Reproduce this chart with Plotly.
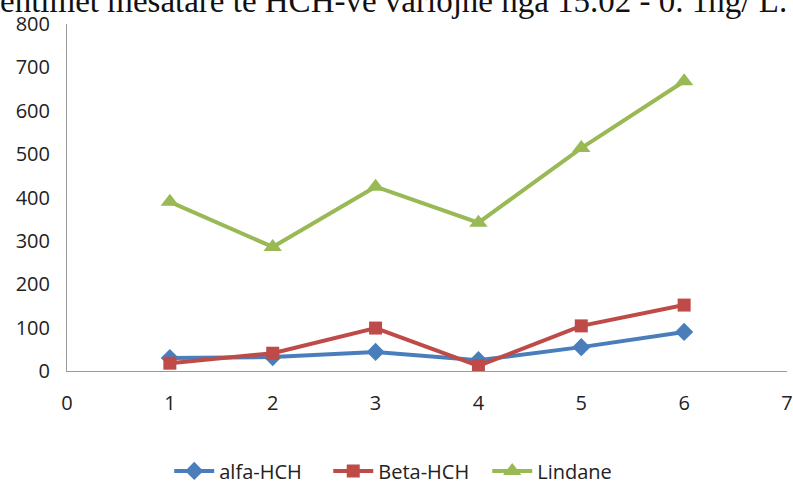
import plotly.graph_objects as go

# Sampling points and measured concentrations
x_points = [1, 2, 3, 4, 5, 6]
alfa_hch = [30, 32, 44, 25, 55, 90]
beta_hch = [18, 41, 99, 12, 104, 152]
lindane = [390, 286, 425, 342, 514, 668]

x_ticks = [0, 1, 2, 3, 4, 5, 6, 7]
y_ticks = [0, 100, 200, 300, 400, 500, 600, 700, 800]

series = [
    ("alfa-HCH", alfa_hch, "#4A7EBB", "diamond", 14),
    ("Beta-HCH", beta_hch, "#BE4B48", "square", 13),
    ("Lindane", lindane, "#98B954", "triangle-up", 16),
]

fig = go.Figure()
for name, vals, color, symbol, size in series:
    fig.add_trace(go.Scatter(
        x=x_points, y=vals, name=name, mode="lines+markers",
        line=dict(color=color, width=4),
        marker=dict(symbol=symbol, size=size, color=color),
    ))

fig.update_layout(
    width=793, height=484,
    margin=dict(l=67, r=6, t=24, b=113, autoexpand=False),
    paper_bgcolor="white", plot_bgcolor="white",
    font=dict(family="Open Sans, Liberation Sans, sans-serif", size=20, color="#222222"),
    title=dict(
        text="entimet mesatare të HCH-ve variojnë nga 15.02 - 0. 1ng/ L.",
        xref="container", yref="container", x=0, xanchor="left",
        y=1.0, yanchor="middle", pad=dict(l=0, t=0, b=0, r=0),
        font=dict(family="Liberation Serif, DejaVu Serif, serif", size=33, color="#111111"),
    ),
    showlegend=True,
    legend=dict(orientation="h", x=0.142, xanchor="left",
                yref="container", y=0.027, yanchor="middle",
                font=dict(size=20), itemwidth=40, entrywidth=104,
                traceorder="normal"),
    xaxis=dict(range=[0, 7], tickvals=x_ticks, showgrid=False, zeroline=False,
               showline=True, linecolor="#9a9a9a", linewidth=1,
               ticks="outside", ticklen=14, tickcolor="rgba(0,0,0,0)",
               ticklabeloverflow="allow"),
    yaxis=dict(range=[0, 800], tickvals=y_ticks, showgrid=False, zeroline=False,
               showline=True, linecolor="#9a9a9a", linewidth=1,
               ticks="outside", ticklen=12, tickcolor="rgba(0,0,0,0)"),
)

fig.write_html("out.html")
